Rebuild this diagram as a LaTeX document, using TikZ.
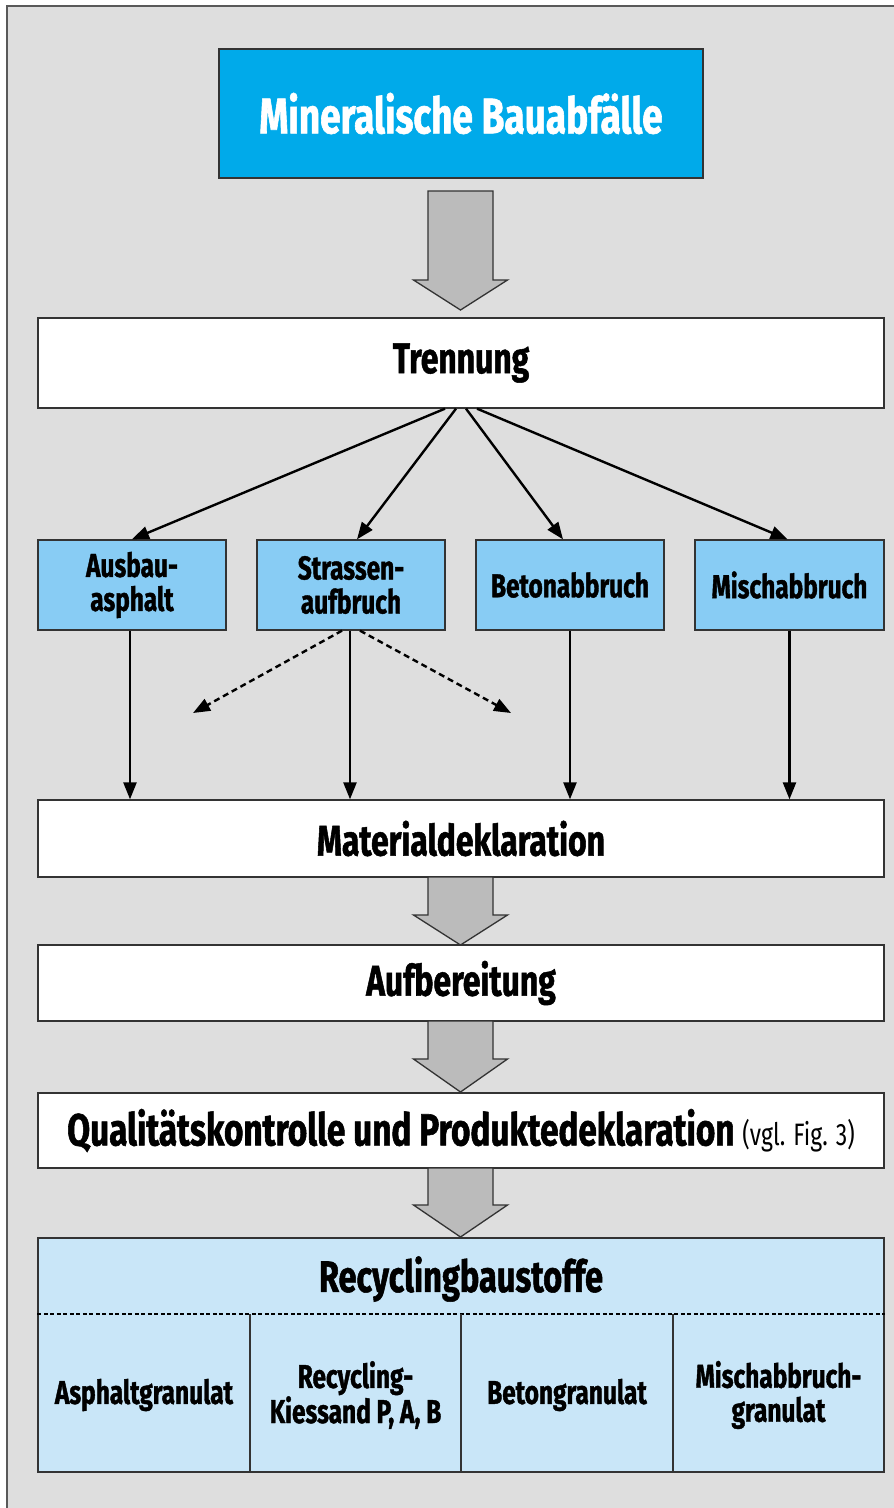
\documentclass[tikz,border=0pt]{standalone}
\usepackage{fontspec}
\setmainfont{Fira Sans}[FakeStretch=0.74,BoldFeatures={FakeBold=1.2}]
\usetikzlibrary{calc,arrows.meta}
\definecolor{bgc}{HTML}{DEDEDE}
\definecolor{topc}{HTML}{00AAEA}
\definecolor{midc}{HTML}{88CCF4}
\definecolor{lowc}{HTML}{C9E6F8}
\definecolor{arrc}{HTML}{BBBBBB}
\definecolor{edgec}{HTML}{333333}
\tikzset{
  box/.style={draw=edgec,line width=1.3pt,rectangle,inner sep=0pt,align=center,font=\bfseries},
  topbox/.style={box,fill=topc,text=white,minimum width=484pt,minimum height=129pt,font=\bfseries\fontsize{50}{54}\selectfont},
  widebox/.style={box,fill=white,minimum width=846pt,font=\bfseries\fontsize{43}{46}\selectfont},
  smallbox/.style={box,fill=midc,minimum width=188pt,minimum height=90pt,font=\bfseries\fontsize{33}{34}\selectfont},
  cell/.style={inner sep=0pt,align=center,font=\bfseries\fontsize{33}{34}\selectfont},
  conn/.style={line width=2.4pt,-{Triangle[length=17pt,width=13pt]}},
  dconn/.style={conn,dash pattern=on 6pt off 4pt},
  blockarr/.style={fill=arrc,draw=edgec,line width=1.3pt,line join=miter},
  divider/.style={line width=1.3pt,draw=edgec}
}
\newcommand{\blockarrow}[3]{% #1 start y, #2 head base y, #3 tip y
  \draw[blockarr] (428,#1) -- (493,#1) -- (493,#2) -- (507.5,#2) -- (460.5,#3) -- (413.5,#2) -- (428,#2) -- cycle;}
\begin{document}
\begin{tikzpicture}[x=1pt,y=-1pt]
\useasboundingbox (0,0) rectangle (894,1508);
\begin{scope}
\clip (0,0) rectangle (894,1508);
\draw[fill=bgc,draw=gray!70!black,line width=2pt] (7,6) rectangle (910,1530);
\end{scope}
% top
\node[topbox] (mb) at (461,113.5) {Mineralische Bauabfälle};
\node[widebox,minimum height=90pt] (tr) at (461,363) {Trennung};
\blockarrow{191}{280}{310}
% small boxes
\node[smallbox] (aus) at (132,585) {Ausbau-\\asphalt};
\node[smallbox] (str) at (351,585) {Strassen-\\aufbruch};
\node[smallbox] (bet) at (570,585) {Betonabbruch};
\node[smallbox,minimum width=189pt] (mis) at (789.5,585) {Mischabbruch};
% wide boxes
\node[widebox,minimum height=77pt] (mat) at (461,838.5) {Materialdeklaration};
\node[widebox,minimum height=76pt] (auf) at (461,983) {Aufbereitung};
\node[widebox,minimum height=75pt,font=\bfseries\fontsize{45}{46}\selectfont] (qua) at (461,1130.5) {Qualitätskontrolle und Produktedeklaration {\fontsize{31}{32}\selectfont\mdseries(vgl. Fig. 3)}};
\blockarrow{877}{915}{945}
\blockarrow{1021}{1059}{1092}
\blockarrow{1168}{1205}{1237}
% connectors from Trennung
\draw[conn] ($(tr.south)+(-16,0)$) -- ($(aus.north)+(0,0)$);
\draw[conn] ($(tr.south)+(-5,0)$) -- ($(str.north)+(6,0)$);
\draw[conn] ($(tr.south)+(5,0)$) -- ($(bet.north)+(-7,0)$);
\draw[conn] ($(tr.south)+(16,0)$) -- ($(mis.north)+(-2,0)$);
% vertical connectors
\coordinate (a1) at ($(aus.south)+(-2,0)$);
\coordinate (s1) at ($(str.south)+(-1,0)$);
\draw[conn] (a1) -- (a1 |- mat.north);
\draw[conn] (s1) -- (s1 |- mat.north);
\draw[conn] (bet.south) -- (bet.south |- mat.north);
\draw[conn] (mis.south) -- (mis.south |- mat.north);
% dashed
\coordinate (dl) at (193,713);
\coordinate (dr) at (511,713);
\draw[dconn] ($(str.south)+(-9,0)$) -- (dl);
\draw[dconn] ($(str.south)+(9,0)$) -- (dr);
% recycling
\node[box,fill=lowc,minimum width=846pt,minimum height=234pt] (rec) at (461,1355) {};
\node[cell,font=\bfseries\fontsize{44}{46}\selectfont] (rt) at (461,1279) {Recyclingbaustoffe};
\coordinate (d0) at (0,1314);
\coordinate (v1) at (250,1314);
\coordinate (v2) at (461,1314);
\coordinate (v3) at (673,1314);
\draw[line width=1.2pt,dash pattern=on 4pt off 2.5pt] (rec.west |- d0) -- (rec.east |- d0);
\draw[divider] (v1) -- (v1 |- rec.south);
\draw[divider] (v2) -- (v2 |- rec.south);
\draw[divider] (v3) -- (v3 |- rec.south);
\node[cell] (c1) at (144,1395) {Asphaltgranulat};
\node[cell] (c2) at (355.5,1395) {Recycling-\\Kiessand P, A, B};
\node[cell] (c3) at (567,1395) {Betongranulat};
\node[cell] (c4) at (778.5,1395) {Mischabbruch-\\granulat};
\end{tikzpicture}
\end{document}
